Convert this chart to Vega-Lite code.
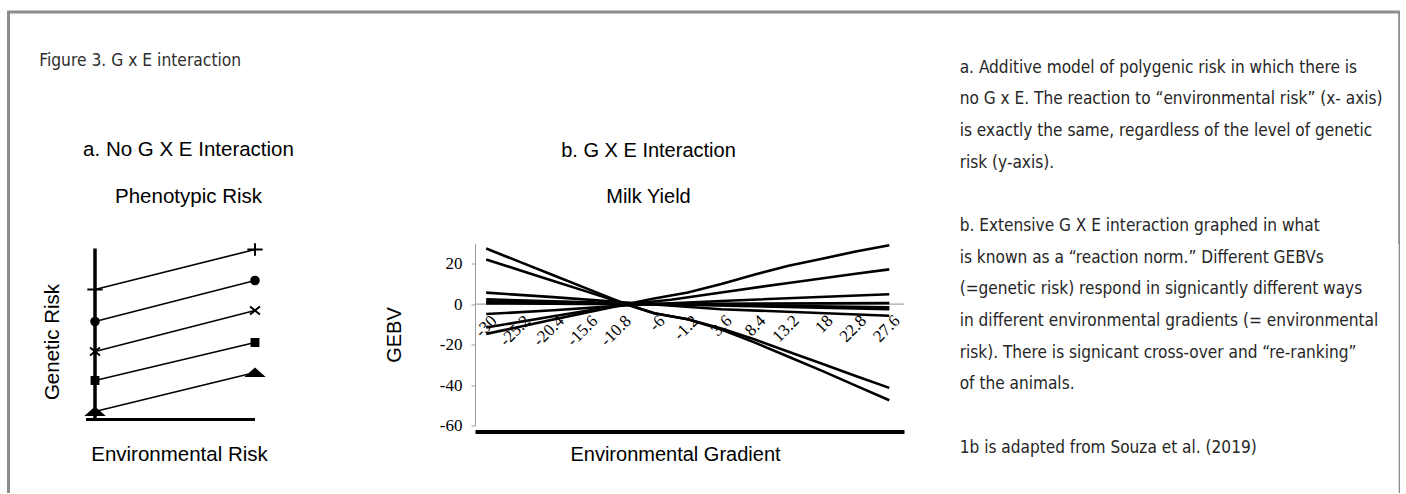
{
  "$schema": "https://vega.github.io/schema/vega-lite/v6.json",
  "background": "white",
  "padding": {"left": 8, "top": 11.5, "right": 0, "bottom": 0},
  "config": {
    "view": {"stroke": null},
    "axis": {"grid": false},
    "font": "Liberation Sans",
    "title": {"fontWeight": "normal", "color": "black", "subtitleColor": "black"}
  },
  "bounds": "flush",
  "spacing": 0,
  "vconcat": [
    {
      "width": 1391.2,
      "height": 232,
      "data": {"values": [{}]},
      "layer": [
        {
          "mark": {"type": "text", "text": ""},
          "encoding": {
            "x": {"datum": 0, "type": "quantitative", "scale": {"domain": [0, 1]},
              "axis": {"orient": "top", "domainColor": "#8c8c8c", "domainWidth": 3, "domainCap": "square", "ticks": false, "labels": false, "title": null}},
            "y": {"datum": 0, "type": "quantitative", "scale": {"domain": [0, 1]},
              "axis": {"orient": "left", "domainColor": "#8c8c8c", "domainWidth": 3, "ticks": false, "labels": false, "title": null}}
          }
        },
        {
          "mark": {"type": "text", "text": ""},
          "encoding": {
            "x": {"datum": 0, "type": "quantitative"},
            "y": {"datum": 0, "type": "quantitative",
              "axis": {"orient": "right", "domainColor": "#8c8c8c", "domainWidth": 3, "ticks": false, "labels": false, "title": null}}
          }
        }
      ],
      "resolve": {"axis": {"y": "independent"}}
    },
    {
      "bounds": "flush",
      "spacing": 0,
      "hconcat": [
        {
          "width": 77.5,
          "height": 249,
          "title": {"text": "Figure 3. G x E interaction", "anchor": "start", "frame": "group", "dx": 31.2, "offset": 174, "font": "DejaVu Sans Condensed", "fontSize": 17.3, "color": "#2e2e2e"},
          "data": {"values": [{}]},
          "mark": {"type": "text", "text": ""},
          "encoding": {
            "y": {"datum": 0, "type": "quantitative", "scale": {"domain": [0, 1]},
              "axis": {"orient": "left", "domainColor": "#8c8c8c", "domainWidth": 3, "ticks": false, "labels": false, "title": null}}
          }
        },
        {
          "width": 389,
          "height": 176,
          "title": {"text": "a. No G X E Interaction", "subtitle": "Phenotypic Risk", "anchor": "middle", "frame": "group", "dx": -92, "fontSize": 20.5, "subtitleFontSize": 20.5, "subtitleFont": "Liberation Sans", "subtitlePadding": 26, "offset": 32},
          "layer": [
            {
              "data": {"values": [{}]},
              "mark": {"type": "rule", "color": "black", "strokeWidth": 3},
              "encoding": {
                "x": {"datum": -9, "type": "quantitative", "scale": {"domain": [-9, 380], "nice": false, "zero": false}},
                "x2": {"datum": 160},
                "y": {"datum": 0, "type": "quantitative", "scale": {"domain": [0, 176], "nice": false}}
              }
            },
            {
              "data": {"values": [{}]},
              "mark": {"type": "rule", "color": "black", "strokeWidth": 3.5},
              "encoding": {
                "x": {"datum": 0, "type": "quantitative"},
                "y": {"datum": 0, "type": "quantitative"},
                "y2": {"datum": 171}
              }
            },
            {
              "data": {"values": [
                {"s": "L1", "x": 0, "y": 130}, {"s": "L1", "x": 160, "y": 170},
                {"s": "L2", "x": 0, "y": 98}, {"s": "L2", "x": 160, "y": 139},
                {"s": "L3", "x": 0, "y": 68}, {"s": "L3", "x": 160, "y": 109},
                {"s": "L4", "x": 0, "y": 39}, {"s": "L4", "x": 160, "y": 77},
                {"s": "L5", "x": 0, "y": 8}, {"s": "L5", "x": 160, "y": 47}
              ]},
              "encoding": {
                "x": {"field": "x", "type": "quantitative", "scale": {"domain": [-9, 380], "nice": false, "zero": false},
                  "axis": {"domain": false, "ticks": false, "labels": false, "title": "Environmental Risk", "titleFontSize": 20.5, "titleFontWeight": "normal", "titleColor": "black", "titlePadding": 25, "titleX": 93}},
                "y": {"field": "y", "type": "quantitative", "scale": {"domain": [0, 176], "nice": false},
                  "axis": {"domain": false, "ticks": false, "labels": false, "title": "Genetic Risk", "titleFontSize": 20.5, "titleFontWeight": "normal", "titleColor": "black", "titlePadding": 24, "titleY": 98}}
              },
              "layer": [
                {"mark": {"type": "line", "color": "black", "strokeWidth": 1.6}, "encoding": {"detail": {"field": "s"}}},
                {"mark": {"type": "point", "filled": true, "fill": "black", "stroke": "black", "strokeWidth": 2, "size": 324, "opacity": 1},
                  "encoding": {"shape": {"field": "s", "type": "nominal", "legend": null,
                    "scale": {"domain": ["L1", "L2", "L3", "L4", "L5"],
                      "range": ["M-0.85,0H0.85M0,-0.7V0.7",
                                "M-0.42,0A0.42,0.42,0,1,1,0.42,0A0.42,0.42,0,1,1,-0.42,0Z",
                                "M-0.55,-0.45L0.55,0.45M-0.55,0.45L0.55,-0.45",
                                "M-0.38,-0.38H0.38V0.38H-0.38Z",
                                "M-0.9,0.4H0.9L0,-0.4Z"]}}}}
              ]
            }
          ]
        },
        {
          "width": 429,
          "height": 182,
          "title": {"text": "b. G X E Interaction", "subtitle": "Milk Yield", "anchor": "middle", "frame": "group", "dx": -41, "fontSize": 20, "subtitleFontSize": 20, "subtitleFont": "Liberation Sans", "subtitlePadding": 26, "offset": 33},
          "layer": [
            {
              "data": {"values": [{}]},
              "mark": {"type": "rule", "color": "#a6a6a6", "strokeWidth": 1.2},
              "encoding": {"y": {"datum": 0, "type": "quantitative"}}
            },
            {
              "data": {"values": [
                {"s": "D1", "x": -30, "y": 27.5}, {"s": "D1", "x": -25.2, "y": 20.9}, {"s": "D1", "x": -20.4, "y": 14.3}, {"s": "D1", "x": -15.6, "y": 7.7}, {"s": "D1", "x": -10, "y": 0}, {"s": "D1", "x": -6, "y": -4.5}, {"s": "D1", "x": -1.2, "y": -7.5}, {"s": "D1", "x": 3.6, "y": -12.5}, {"s": "D1", "x": 8.4, "y": -19}, {"s": "D1", "x": 13.2, "y": -26}, {"s": "D1", "x": 18, "y": -33}, {"s": "D1", "x": 22.8, "y": -40.3}, {"s": "D1", "x": 27.6, "y": -47.5},
                {"s": "D2", "x": -30, "y": 22.1}, {"s": "D2", "x": -25.2, "y": 16.8}, {"s": "D2", "x": -20.4, "y": 11.5}, {"s": "D2", "x": -15.6, "y": 6.2}, {"s": "D2", "x": -10, "y": 0}, {"s": "D2", "x": -6, "y": -4.5}, {"s": "D2", "x": -1.2, "y": -7.5}, {"s": "D2", "x": 3.6, "y": -12}, {"s": "D2", "x": 8.4, "y": -17.5}, {"s": "D2", "x": 13.2, "y": -23.5}, {"s": "D2", "x": 18, "y": -29.5}, {"s": "D2", "x": 22.8, "y": -35.5}, {"s": "D2", "x": 27.6, "y": -41.4},
                {"s": "A1", "x": -30, "y": -14.7}, {"s": "A1", "x": -25.2, "y": -11.2}, {"s": "A1", "x": -20.4, "y": -7.6}, {"s": "A1", "x": -15.6, "y": -4.1}, {"s": "A1", "x": -10, "y": 0}, {"s": "A1", "x": -6, "y": 2.8}, {"s": "A1", "x": -1.2, "y": 5.8}, {"s": "A1", "x": 3.6, "y": 10}, {"s": "A1", "x": 8.4, "y": 14.7}, {"s": "A1", "x": 13.2, "y": 19}, {"s": "A1", "x": 18, "y": 22.5}, {"s": "A1", "x": 22.8, "y": 26}, {"s": "A1", "x": 27.6, "y": 29.1},
                {"s": "A2", "x": -30, "y": -11.5}, {"s": "A2", "x": -20.4, "y": -6}, {"s": "A2", "x": -10, "y": 0}, {"s": "A2", "x": -3.6, "y": 2.2}, {"s": "A2", "x": 3.6, "y": 5.8}, {"s": "A2", "x": 13.2, "y": 10.5}, {"s": "A2", "x": 22.8, "y": 15}, {"s": "A2", "x": 27.6, "y": 17.2},
                {"s": "F1", "x": -30, "y": 5.7}, {"s": "F1", "x": -20.4, "y": 3.5}, {"s": "F1", "x": -10, "y": 0.8}, {"s": "F1", "x": 3.6, "y": -2.5}, {"s": "F1", "x": 27.6, "y": -5.7},
                {"s": "F2", "x": -30, "y": -4.9}, {"s": "F2", "x": -20.4, "y": -3}, {"s": "F2", "x": -10, "y": -0.6}, {"s": "F2", "x": 3.6, "y": 1.6}, {"s": "F2", "x": 27.6, "y": 4.9},
                {"s": "B1", "x": -30, "y": 2.4}, {"s": "B1", "x": -10, "y": 0.4}, {"s": "B1", "x": 27.6, "y": -2.5},
                {"s": "B2", "x": -30, "y": 1.4}, {"s": "B2", "x": -10, "y": 0.2}, {"s": "B2", "x": 27.6, "y": -1.5},
                {"s": "B3", "x": -30, "y": 0.4}, {"s": "B3", "x": -10, "y": 0}, {"s": "B3", "x": 27.6, "y": 0.5}
              ]},
              "mark": {"type": "line", "color": "black", "strokeWidth": 2.6},
              "encoding": {
                "x": {"field": "x", "type": "quantitative", "scale": {"domain": [-31.6, 29.7], "nice": false, "zero": false},
                  "axis": {"orient": "bottom", "offset": 6, "domainColor": "black", "domainWidth": 4, "ticks": false, "labels": false, "title": "Environmental Gradient", "titleFontSize": 20, "titleFontWeight": "normal", "titleColor": "black", "titlePadding": 13, "titleX": 200}},
                "y": {"field": "y", "type": "quantitative", "scale": {"domain": [-60, 30], "nice": false},
                  "axis": {"values": [-60, -40, -20, 0, 20], "labelExpr": "'' + datum.value", "domainColor": "#9a9a9a", "domainWidth": 1, "tickColor": "#9a9a9a", "tickSize": 4, "labelFont": "Liberation Serif", "labelFontSize": 17, "labelColor": "black", "labelPadding": 9, "title": "GEBV", "titleFontSize": 20, "titleFontWeight": "normal", "titleColor": "black", "titlePadding": 35}},
                "detail": {"field": "s"}
              }
            },
            {
              "data": {"values": [
                {"v": -30, "lab": "-30"}, {"v": -25.2, "lab": "-25.2"}, {"v": -20.4, "lab": "-20.4"}, {"v": -15.6, "lab": "-15.6"}, {"v": -10.8, "lab": "-10.8"}, {"v": -6, "lab": "-6"}, {"v": -1.2, "lab": "-1.2"}, {"v": 3.6, "lab": "3.6"}, {"v": 8.4, "lab": "8.4"}, {"v": 13.2, "lab": "13.2"}, {"v": 18, "lab": "18"}, {"v": 22.8, "lab": "22.8"}, {"v": 27.6, "lab": "27.6"}
              ]},
              "mark": {"type": "text", "angle": -45, "align": "right", "baseline": "middle", "font": "Liberation Serif", "fontSize": 17, "color": "black", "xOffset": 8},
              "encoding": {
                "x": {"field": "v", "type": "quantitative", "title": "Environmental Gradient"},
                "y": {"datum": -7, "type": "quantitative"},
                "text": {"field": "lab"}
              }
            }
          ]
        },
        {
          "width": 495.7,
          "height": 249,
          "data": {"values": [
            {"i": 0, "t": "a. Additive model of polygenic risk in which there is"},
            {"i": 1, "t": "no G x E. The reaction to “environmental risk” (x- axis)"},
            {"i": 2, "t": "is exactly the same, regardless of the level of genetic"},
            {"i": 3, "t": "risk (y-axis)."},
            {"i": 5, "t": "b. Extensive G X E interaction graphed in what"},
            {"i": 6, "t": "is known as a “reaction norm.” Different GEBVs"},
            {"i": 7, "t": "(=genetic risk) respond in signicantly different ways"},
            {"i": 8, "t": "in different environmental gradients (= environmental"},
            {"i": 9, "t": "risk). There is signicant cross-over and “re-ranking”"},
            {"i": 10, "t": "of the animals."},
            {"i": 12, "t": "1b is adapted from Souza et al. (2019)"}
          ]},
          "mark": {"type": "text", "align": "left", "baseline": "middle", "font": "DejaVu Sans Condensed", "fontSize": 17.1, "color": "#262626"},
          "encoding": {
            "x": {"datum": 0, "type": "quantitative", "scale": {"domain": [-55.7, 440]}, "axis": null},
            "y": {"field": "i", "type": "quantitative", "scale": {"domain": [5.552, 13.407], "reverse": true, "nice": false, "zero": false},
              "axis": {"orient": "right", "domainColor": "#8c8c8c", "domainWidth": 3, "ticks": false, "labels": false, "title": null, "grid": false}},
            "text": {"field": "t"}
          }
        }
      ]
    }
  ]
}
